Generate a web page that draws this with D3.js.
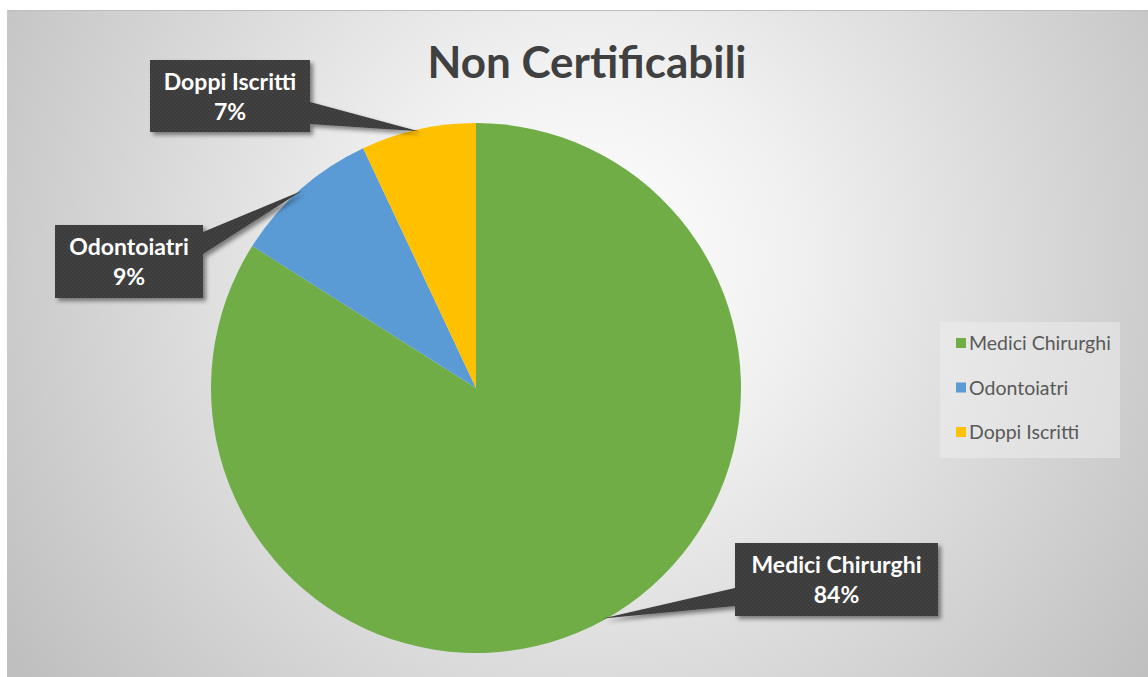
<!DOCTYPE html>
<html>
<head>
<meta charset="utf-8">
<script src="https://cdn.jsdelivr.net/npm/d3@7/dist/d3.min.js"></script>
<style>
  body { margin: 0; background: #fff; }
  svg { display: block; }
</style>
</head>
<body>
<svg id="chart" width="1148" height="677"></svg>
<script>
// data
const categories = ["Medici Chirurghi", "Odontoiatri", "Doppi Iscritti"];
const values = [84, 9, 7];
const colors = ["#70AD47", "#5B9BD5", "#FFC000"];
const title = "Non Certificabili";

const layout = {
  width: 1148,
  height: 677,
  cx: 476,
  cy: 388,
  r: 265,
};

// callout boxes: position, size and the two base points of the pointer
const callouts = {
  "Medici Chirurghi": { x: 735, y: 543, w: 203, h: 73, base: [[735, 588], [735, 606]] },
  "Odontoiatri": { x: 55, y: 225, w: 148, h: 73, base: [[203, 232], [203, 254]] },
  "Doppi Iscritti": { x: 150, y: 60, w: 160, h: 72, base: [[310, 102], [310, 124]] },
};

const svg = d3.select("#chart");
const defs = svg.append("defs");

// background gradient
const bg = defs.append("radialGradient")
  .attr("id", "bg")
  .attr("gradientUnits", "userSpaceOnUse")
  .attr("cx", 590).attr("cy", 260).attr("r", 700);
bg.append("stop").attr("offset", "0%").attr("stop-color", "#ffffff");
bg.append("stop").attr("offset", "30%").attr("stop-color", "#f0f0f0");
bg.append("stop").attr("offset", "100%").attr("stop-color", "#bfbfbf");

// dotted texture for the callouts
const pat = defs.append("pattern")
  .attr("id", "dots")
  .attr("width", 4).attr("height", 4)
  .attr("patternUnits", "userSpaceOnUse");
pat.append("rect").attr("width", 4).attr("height", 4).attr("fill", "#3b3b3b");
pat.append("circle").attr("cx", 1).attr("cy", 1).attr("r", 0.8).attr("fill", "#4a4a4a");
pat.append("circle").attr("cx", 3).attr("cy", 3).attr("r", 0.8).attr("fill", "#4a4a4a");

const shadow = defs.append("filter").attr("id", "shadow")
  .attr("x", "-20%").attr("y", "-20%").attr("width", "140%").attr("height", "140%");
shadow.append("feDropShadow")
  .attr("dx", 3).attr("dy", 3).attr("stdDeviation", 2)
  .attr("flood-color", "#000").attr("flood-opacity", 0.45);

svg.append("rect")
  .attr("x", 7).attr("y", 10)
  .attr("width", layout.width - 7).attr("height", layout.height - 10)
  .attr("fill", "url(#bg)");
svg.append("line")
  .attr("x1", 7).attr("x2", layout.width)
  .attr("y1", 10.5).attr("y2", 10.5)
  .attr("stroke", "#bdbdbd");

// title
svg.append("text")
  .attr("x", 587).attr("y", 78)
  .attr("text-anchor", "middle")
  .attr("font-family", "Lato, sans-serif")
  .attr("font-weight", "bold")
  .attr("font-size", 44)
  .attr("fill", "#404040")
  .text(title);

// pie
const pie = d3.pie().sort(null).value(d => d.value);
const arcs = pie(categories.map((c, i) => ({ name: c, value: values[i], color: colors[i] })));
const arc = d3.arc().innerRadius(0).outerRadius(layout.r);
const rim = d3.arc().innerRadius(layout.r - 2).outerRadius(layout.r - 2);
const total = d3.sum(values);

const g = svg.append("g").attr("transform", `translate(${layout.cx},${layout.cy})`);
g.selectAll("path.slice")
  .data(arcs)
  .join("path")
  .attr("class", "slice")
  .attr("d", arc)
  .attr("fill", d => d.data.color);

// callouts
const labels = svg.append("g");
arcs.forEach(d => {
  const c = callouts[d.data.name];
  const tip = rim.centroid(d);
  const tx = tip[0] + layout.cx, ty = tip[1] + layout.cy;
  const lg = labels.append("g").attr("filter", "url(#shadow)");
  lg.append("path")
    .attr("d", `M${c.base[0][0]},${c.base[0][1]}L${tx},${ty}L${c.base[1][0]},${c.base[1][1]}Z`)
    .attr("fill", "url(#dots)");
  lg.append("rect")
    .attr("x", c.x).attr("y", c.y)
    .attr("width", c.w).attr("height", c.h)
    .attr("fill", "url(#dots)");
  const t = labels.append("text")
    .attr("text-anchor", "middle")
    .attr("font-family", "Lato, sans-serif")
    .attr("font-weight", "bold")
    .attr("font-size", 23)
    .attr("fill", "#ffffff");
  t.append("tspan").attr("x", c.x + c.w / 2).attr("y", c.y + 30).text(d.data.name);
  t.append("tspan").attr("x", c.x + c.w / 2).attr("y", c.y + 60)
    .text(Math.round(d.data.value / total * 100) + "%");
});

// legend
const legend = svg.append("g").attr("transform", "translate(940,322)");
legend.append("rect")
  .attr("width", 180).attr("height", 136)
  .attr("fill", "#f2f2f2").attr("fill-opacity", 0.45);
const items = legend.selectAll("g.item")
  .data(categories)
  .join("g")
  .attr("class", "item")
  .attr("transform", (d, i) => `translate(16,${21 + i * 44.5})`);
items.append("rect")
  .attr("x", 0).attr("y", -5)
  .attr("width", 10).attr("height", 10)
  .attr("fill", (d, i) => colors[i]);
items.append("text")
  .attr("x", 13).attr("y", 7)
  .attr("font-family", "Lato, sans-serif")
  .attr("font-size", 19.5)
  .attr("fill", "#595959")
  .text(d => d);
</script>
</body>
</html>
